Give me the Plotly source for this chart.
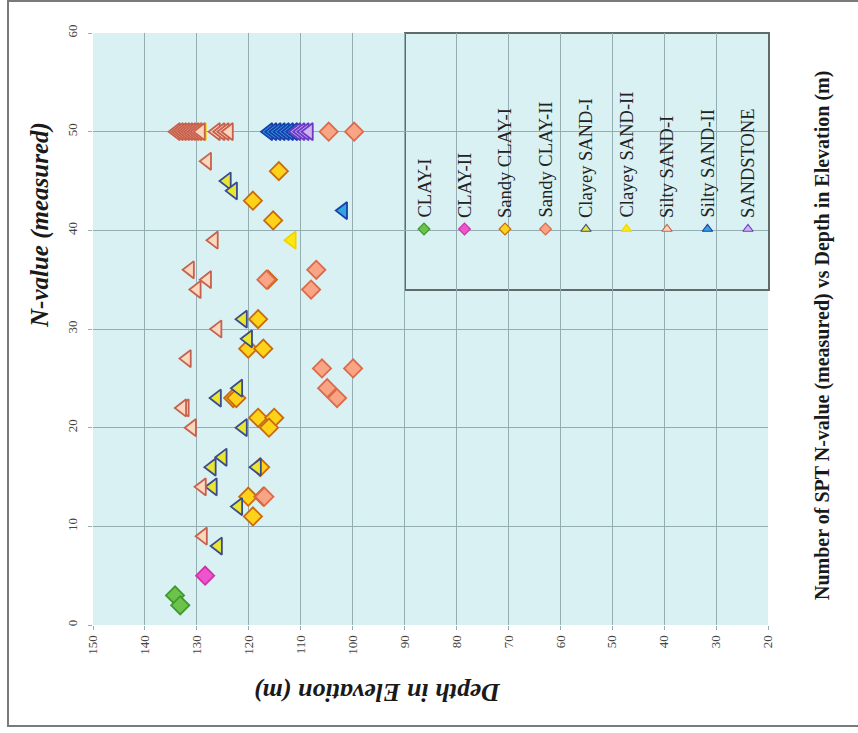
import plotly.graph_objects as go

# ---------------- data (Depth in Elevation (m), N-value) ----------------
clay1_x = [134.2, 133.2]
clay1_y = [3, 2]

clay2_x = [128.4]
clay2_y = [5]

sandy_clay1_x = [114.2, 119.2, 115.3, 116.3, 118.2, 120.1, 117.2, 123.0, 122.4,
                 118.2, 115.1, 116.1, 117.8, 120.1, 117.2, 119.2]
sandy_clay1_y = [46, 43, 41, 35, 31, 28, 28, 23, 23, 21, 21, 20, 16, 13, 13, 11]

sandy_clay2_x = [104.6, 99.7, 107.0, 108.0, 105.9, 99.9, 104.9, 103.0, 116.6, 117.0]
sandy_clay2_y = [50, 50, 36, 34, 26, 26, 24, 23, 35, 13]

clayey_sand1_x = [124.2, 123.0, 121.1, 120.1, 122.0, 126.1, 121.1, 125.0, 127.1,
                  118.4, 126.9, 122.0, 125.9]
clayey_sand1_y = [45, 44, 31, 29, 24, 23, 20, 17, 16, 16, 14, 12, 8]

clayey_sand2_x = [111.7, 130.0, 129.0]
clayey_sand2_y = [39, 50, 50]

silty_sand1_x = [134.0, 133.4, 132.8, 132.2, 131.6, 131.0, 130.4, 129.8, 129.2,
                 126.3, 125.4, 124.6, 123.8,
                 128.0, 126.7, 131.3, 128.0, 130.0, 126.0, 131.9, 132.3, 132.8,
                 130.9, 129.0, 128.8]
silty_sand1_y = [50, 50, 50, 50, 50, 50, 50, 50, 50,
                 50, 50, 50, 50,
                 47, 39, 36, 35, 34, 30, 27, 22, 22, 20, 14, 9]

silty_sand2_x = [116.2, 115.4, 114.6, 113.8, 113.0, 112.2, 111.4, 101.8]
silty_sand2_y = [50, 50, 50, 50, 50, 50, 50, 42]

sandstone_x = [110.8, 110.0, 109.2, 108.4]
sandstone_y = [50, 50, 50, 50]

legend_names = ["CLAY-I", "CLAY-II", "Sandy CLAY-I", "Sandy CLAY-II",
                "Clayey SAND-I", "Clayey SAND-II", "Silty SAND-I",
                "Silty SAND-II", "SANDSTONE"]

x_ticks = [150, 140, 130, 120, 110, 100, 90, 80, 70, 60, 50, 40, 30, 20]
y_ticks = [0, 10, 20, 30, 40, 50, 60]

# ---------------- styles ----------------
series = [
    (clay1_x, clay1_y, "diamond", "#6cc24a", "#3f9a2e"),
    (clay2_x, clay2_y, "diamond", "#ee55cc", "#cc33aa"),
    (sandy_clay1_x, sandy_clay1_y, "diamond", "#ffd21a", "#c86a10"),
    (sandy_clay2_x, sandy_clay2_y, "diamond", "#f7a584", "#e0684a"),
    (clayey_sand1_x, clayey_sand1_y, "triangle-left", "#e9e632", "#3a4c8c"),
    (clayey_sand2_x, clayey_sand2_y, "triangle-left", "#ffe812", "#f2d200"),
    (silty_sand1_x, silty_sand1_y, "triangle-left", "#fbd7bd", "#c8604e"),
    (silty_sand2_x, silty_sand2_y, "triangle-left", "#2fa6dc", "#1a3fae"),
    (sandstone_x, sandstone_y, "triangle-left", "#d4b4f0", "#6a3bc8"),
]

SERIF = "Liberation Serif, Times New Roman, serif"
BG = "#d9f1f3"

fig = go.Figure()

for xs, ys, sym, fill, line in series:
    fig.add_trace(go.Scatter(
        x=xs, y=ys, mode="markers", showlegend=False,
        marker=dict(symbol=sym, size=14 if sym == "diamond" else 15,
                    color=fill, line=dict(color=line, width=1.8)),
        xaxis="x", yaxis="y"))

# ---------------- custom rotated legend ----------------
W, H = 675.0, 592.0   # plot area size in px
L, T = 93.0, 33.0

def px_to_paper_x(px):
    return (px - L) / W

def px_to_paper_y(py):
    return (T + H - py) / H

leg_x0 = 424.0
leg_step = 40.5
marker_py = 229.0
for i, (name, (xs, ys, sym, fill, line)) in enumerate(zip(legend_names, series)):
    lx = px_to_paper_x(leg_x0 + i * leg_step)
    fig.add_trace(go.Scatter(
        x=[lx], y=[px_to_paper_y(marker_py)], mode="markers", showlegend=False,
        marker=dict(symbol="diamond" if sym == "diamond" else "triangle-up",
                    size=9, color=fill, line=dict(color=line, width=1.2)),
        xaxis="x2", yaxis="y2", hoverinfo="skip"))
    fig.add_annotation(
        x=lx, y=px_to_paper_y(marker_py - 9), xref="paper", yref="paper",
        text=name, textangle=-90, showarrow=False,
        xanchor="center", yanchor="bottom",
        font=dict(family=SERIF, size=18.5, color="#222222"))

# legend box
fig.add_shape(type="rect", xref="paper", yref="paper",
              x0=px_to_paper_x(405), x1=px_to_paper_x(769),
              y0=px_to_paper_y(290), y1=px_to_paper_y(33),
              fillcolor=BG, line=dict(color="#5f6b6b", width=2), layer="between")

# outer frame
fig.add_shape(type="rect", xref="paper", yref="paper",
              x0=px_to_paper_x(8), x1=px_to_paper_x(870),
              y0=px_to_paper_y(726), y1=px_to_paper_y(1),
              line=dict(color="#7a7a7a", width=2), layer="below")

# titles
fig.add_annotation(x=px_to_paper_x(40), y=px_to_paper_y(225), xref="paper", yref="paper",
                   xanchor="center", yanchor="middle",
                   text="<b><i>N-value (measured)</i></b>", textangle=-90, showarrow=False,
                   font=dict(family=SERIF, size=25, color="#1a1a1a"))
fig.add_annotation(x=px_to_paper_x(378), y=px_to_paper_y(693), xref="paper", yref="paper",
                   xanchor="center", yanchor="middle",
                   text="<b><i>Depth in Elevation (m)</i></b>", textangle=180, showarrow=False,
                   font=dict(family=SERIF, size=26, color="#1a1a1a"))
fig.add_annotation(x=px_to_paper_x(822), y=px_to_paper_y(336), xref="paper", yref="paper",
                   xanchor="center", yanchor="middle",
                   text="<b>Number of SPT N-value (measured) vs Depth in Elevation (m)</b>",
                   textangle=-90, showarrow=False,
                   font=dict(family=SERIF, size=20, color="#1a1a1a"))

fig.update_layout(
    width=858, height=733,
    margin=dict(l=93, r=90, t=33, b=108),
    paper_bgcolor="white", plot_bgcolor=BG,
    xaxis=dict(range=[150, 20], tickvals=x_ticks, ticktext=[str(v) for v in x_ticks],
               tickangle=-90, showgrid=True, gridcolor="#93aeb2", gridwidth=1,
               zeroline=False, showline=False, ticks="outside", ticklen=4,
               tickcolor="#93aeb2",
               tickfont=dict(family=SERIF, size=13, color="#444444")),
    yaxis=dict(range=[0, 60], tickvals=y_ticks, tickangle=-90,
               showgrid=True, gridcolor="#93aeb2", gridwidth=1,
               zeroline=False, showline=False, ticks="outside", ticklen=4,
               tickcolor="#93aeb2", ticklabelstandoff=6,
               tickfont=dict(family=SERIF, size=13, color="#444444")),
    xaxis2=dict(overlaying="x", range=[0, 1], visible=False),
    yaxis2=dict(overlaying="y", range=[0, 1], visible=False),
)

fig.write_html("out.html")
